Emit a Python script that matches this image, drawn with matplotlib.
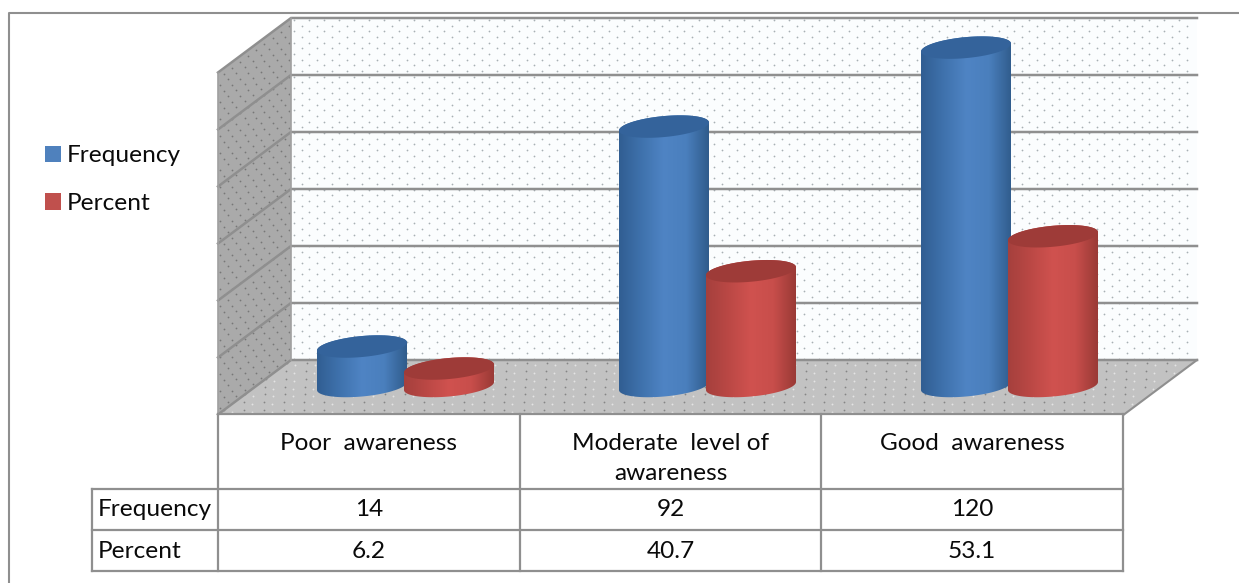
import numpy as np
import matplotlib
matplotlib.use("Agg")
import matplotlib.pyplot as plt
from matplotlib.patches import Polygon, PathPatch, Patch
from matplotlib.path import Path

# ---- data ----
categories = ["Poor  awareness", "Moderate  level of\nawareness", "Good  awareness"]
series_names = ["Frequency", "Percent"]
frequency = [14, 92, 120]
percent = [6.2, 40.7, 53.1]

# ---- style ----
W, H = 1239, 583
plt.rcParams["font.family"] = ["Lato", "DejaVu Sans"]
FS = 17.6
LINE = "#8f8f8f"
TXT = "#0a0a0a"
BLUE_G = ["#315e92", "#3f72ad", "#4f84c4", "#4a7fbd", "#305c8c"]
RED_G = ["#a5403d", "#bb4845", "#d0524f", "#c84e4b", "#9a3a36"]
BLUE_TOP = "#34639b"
RED_TOP = "#9e3b38"
LEG_BLUE = "#4f81bd"
LEG_RED = "#c0504d"

fig = plt.figure(figsize=(W / 100, H / 100), dpi=100, facecolor="white")

# background axes in pixel units for the chart furniture
bg = fig.add_axes([0, 0, 1, 1])
bg.set_xlim(0, W)
bg.set_ylim(H, 0)
bg.axis("off")

# outer frame
bg.plot([8.5, 8.5, W], [H, 12.5, 12.5], color=LINE, lw=1.5, zorder=1)

# 3-D box
xb0, xb1, yb0, yb1 = 291, 1197, 18, 360
dx, dy = 73, 54.5
bg.add_patch(Polygon([(xb0, yb0), (xb1, yb0), (xb1, yb1), (xb0, yb1)], fc="#fbfdfe", ec="none", zorder=1))
bg.add_patch(Polygon([(xb0 - dx, yb0 + dy + 1), (xb0, yb0), (xb0, yb1), (xb0 - dx, yb1 + dy)], fc="#aaaaaa", ec="none", zorder=1))
bg.add_patch(Polygon([(xb0 - dx, yb1 + dy), (xb1 - dx, yb1 + dy), (xb1, yb1), (xb0, yb1)], fc="#c2c2c2", ec="none", zorder=1))

# dot textures
gx, gy = np.meshgrid(np.arange(0, 906, 15.0), np.arange(2, 342, 5.65))
row = np.round((gy - 2) / 5.65).astype(int)
wx = xb0 + 3 + gx + 7.5 * (row % 2)
keep = wx < xb1 - 3
bg.scatter(wx[keep], (yb0 + gy)[keep], s=1.6, c="#a8b0b4", lw=0, zorder=2, marker="o")
u, v = np.meshgrid(np.arange(0.03, 1, 1 / 9), np.arange(0, 340, 8.5))
row = np.round(v / 8.5).astype(int)
uu = np.clip(u + (row % 2) * 0.05, 0, 0.99)
bg.scatter(xb0 - dx * uu, yb0 + v + 6 + dy * uu, s=1.6, c="#777777", lw=0, zorder=2)
u, v = np.meshgrid(np.arange(0, 910, 20.0), np.arange(0.06, 1, 1 / 7))
row = np.round((v - 0.06) * 7).astype(int)
fx = xb0 - dx * v + u + 10 * (row % 2)
fy = yb1 + dy * v
keep = fx < (xb1 - dx * v - 10)
bg.scatter(fx[keep], fy[keep], s=1.6, c="#858585", lw=0, zorder=2)
bg.scatter(fx[keep] + 8, fy[keep] + 2, s=1.8, c="#e4e4e4", lw=0, zorder=2)

# gridlines
n_grid = 6
for k in range(n_grid + 1):
    yy = yb0 + (yb1 - yb0) * k / n_grid
    bg.plot([xb0 - dx, xb0, xb1], [yy + dy, yy, yy], color=LINE, lw=1.8, zorder=3, solid_joinstyle="miter")
bg.plot([xb0, xb0], [yb0, yb1], color="#a0a0a0", lw=1.2, zorder=3)
bg.plot([xb0 - dx, xb0 - dx], [yb0 + dy, yb1 + dy], color="#a0a0a0", lw=1.2, zorder=3)
bg.plot([xb1 - dx, xb1], [yb1 + dy, yb1], color=LINE, lw=1.5, zorder=3)

# table
col_x = [218, 520, 821, 1123]
label_x = 92
row_y = [414, 489, 530, 571]
for x in col_x:
    bg.plot([x, x], [row_y[0], row_y[3]], color=LINE, lw=1.6, zorder=3)
bg.plot([col_x[0], col_x[-1]], [row_y[0], row_y[0]], color=LINE, lw=1.6, zorder=3)
for y in row_y[1:]:
    bg.plot([label_x, col_x[-1]], [y, y], color=LINE, lw=1.6, zorder=3)
bg.plot([label_x, label_x], [row_y[1], row_y[3]], color=LINE, lw=1.6, zorder=3)

for i, cat in enumerate(categories):
    cx = (col_x[i] + col_x[i + 1]) / 2
    lines = cat.split("\n")
    for j, ln in enumerate(lines):
        bg.text(cx, 443 + 31 * j, ln, ha="center", va="center", fontsize=FS, color=TXT)
    bg.text(cx, 510, str(frequency[i]), ha="center", va="center", fontsize=FS, color=TXT)
    bg.text(cx, 552, str(percent[i]), ha="center", va="center", fontsize=FS, color=TXT)
bg.text(98, 509, series_names[0], ha="left", va="center", fontsize=FS, color=TXT)
bg.text(98, 552, series_names[1], ha="left", va="center", fontsize=FS, color=TXT)

# ---- bars: axes with real value / category scales ----
PX_PER_VAL = 2.82
PX_PER_GROUP = 302.0
BASE_PY = 386.0
GROUP0_PX = 405.5
ax = fig.add_axes([0, 0, 1, 1], facecolor="none")
ax.set_xlim((0 - GROUP0_PX) / PX_PER_GROUP, (W - GROUP0_PX) / PX_PER_GROUP)
ax.set_ylim((BASE_PY - H) / PX_PER_VAL, BASE_PY / PX_PER_VAL)
ax.axis("off")

half_w = 45 / PX_PER_GROUP
offset = 43.5 / PX_PER_GROUP
ell_b = 10.5 / PX_PER_VAL
ell_s = 4.0 / PX_PER_VAL
t = np.linspace(0, 2 * np.pi, 121)


def ell(cx, cy, tt):
    return np.column_stack([cx + half_w * np.cos(tt), cy + ell_b * np.sin(tt) + ell_s * np.cos(tt)])


def cylinder(cx, value, grad, top, z):
    low = ell(cx, 0, np.linspace(np.pi, 2 * np.pi, 61))
    up = ell(cx, value, np.linspace(0, np.pi, 61))
    poly = np.vstack([low, up, low[:1]])
    clip = PathPatch(Path(poly), transform=ax.transData, fc="none", ec="none")
    ax.add_patch(clip)
    cmap = matplotlib.colors.LinearSegmentedColormap.from_list("c", grad)
    grad_img = np.linspace(0, 1, 128)[None, :]
    im = ax.imshow(grad_img, extent=[cx - half_w, cx + half_w, -ell_b * 2, value + ell_b * 2],
                   aspect="auto", cmap=cmap, zorder=z, interpolation="bilinear")
    im.set_clip_path(clip)
    ax.add_patch(Polygon(ell(cx, value, t), closed=True, fc=top, ec="none", zorder=z + 0.1))


for i in range(len(categories)):
    cylinder(i - offset, frequency[i], BLUE_G, BLUE_TOP, 5 + i)
    cylinder(i + offset, percent[i], RED_G, RED_TOP, 5.5 + i)

ax.set_xlim((0 - GROUP0_PX) / PX_PER_GROUP, (W - GROUP0_PX) / PX_PER_GROUP)
ax.set_ylim((BASE_PY - H) / PX_PER_VAL, BASE_PY / PX_PER_VAL)

# legend
fs_px = FS * 100 / 72
leg = ax.legend(handles=[Patch(fc=LEG_BLUE, ec="none"), Patch(fc=LEG_RED, ec="none")],
                labels=series_names, loc="upper left", bbox_to_anchor=(45 / W, 1 - 145.5 / H),
                bbox_transform=fig.transFigure, frameon=False, fontsize=FS, borderaxespad=0, borderpad=0,
                handlelength=16 / fs_px, handleheight=16 / fs_px, handletextpad=6 / fs_px,
                labelspacing=26.5 / fs_px, labelcolor=TXT)

fig.savefig("out.png", dpi=100, facecolor="white")
